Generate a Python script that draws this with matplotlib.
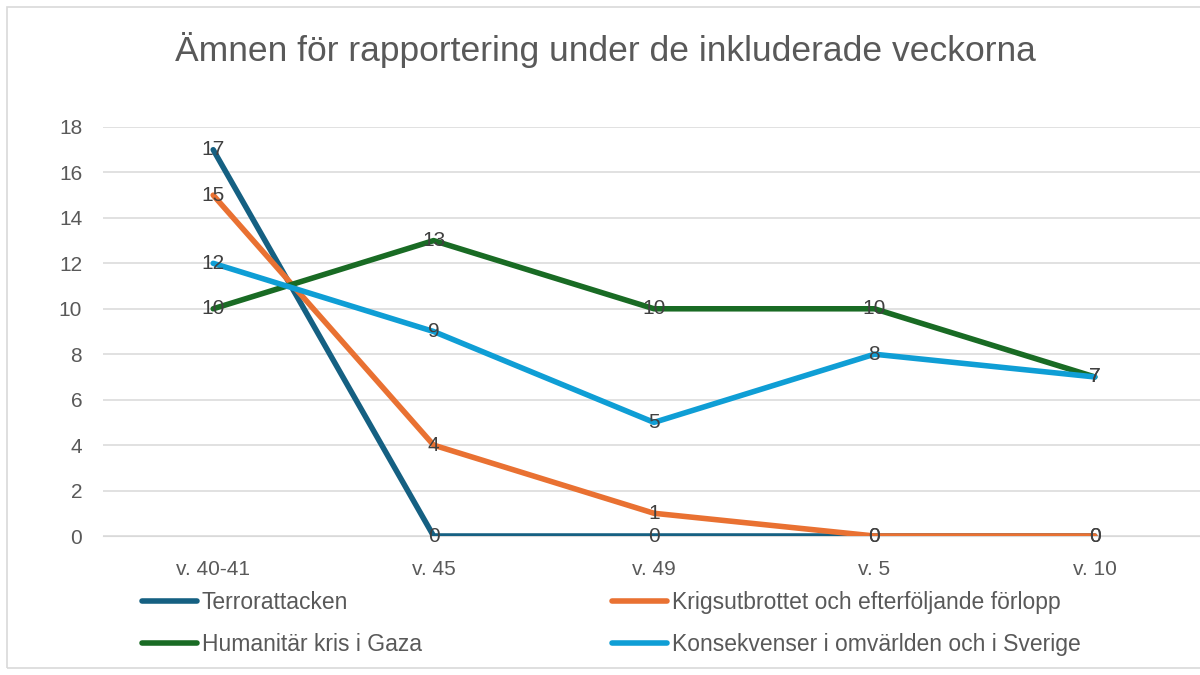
import matplotlib
matplotlib.use("Agg")
import matplotlib.pyplot as plt
from matplotlib.patches import Rectangle

# ── Data ──
weeks = ["v. 40-41", "v. 45", "v. 49", "v. 5", "v. 10"]
series_names = [
    "Terrorattacken",
    "Krigsutbrottet och efterföljande förlopp",
    "Humanitär kris i Gaza",
    "Konsekvenser i omvärlden och i Sverige",
]
terror = [17, 0, 0, 0, 0]
krig = [15, 4, 1, 0, 0]
humanitar = [10, 13, 10, 10, 7]
konsekvenser = [12, 9, 5, 8, 7]
values = [terror, krig, humanitar, konsekvenser]
colors = ["#156082", "#E97132", "#196B24", "#0F9ED5"]

TXT = "#595959"
LBL = "#404040"
GRID = "#D9D9D9"

plt.rcParams["font.family"] = ["Liberation Sans", "DejaVu Sans"]

fig = plt.figure(figsize=(12, 6.75), dpi=100, facecolor="white")
fig.add_artist(Rectangle((7 / 1200, 7 / 675), 1.2, 661 / 675,
                         transform=fig.transFigure, fill=False,
                         edgecolor="#D9D9D9", linewidth=1.2))

ax = fig.add_axes([103 / 1200, 1 - 536 / 675, 1102 / 1200, 409 / 675])
x = list(range(len(weeks)))

handles = []
for vals, name, col in zip(values, series_names, colors):
    h, = ax.plot(x, vals, color=col, linewidth=4.0, label=name,
                 solid_capstyle="round", zorder=3)
    handles.append(h)
    for xi, v in zip(x, vals):
        ax.text(xi, v, str(v), ha="center", va="center", fontsize=15,
                color=LBL, zorder=4)

ax.set_xlim(-0.5, len(weeks) - 0.5)
ax.set_ylim(0, 18)
ax.set_yticks(range(0, 19, 2))
ax.set_xticks(x)
ax.set_xticklabels(weeks)
ax.grid(axis="y", color=GRID, linewidth=1.1, zorder=0)
ax.tick_params(axis="both", length=0, labelsize=15, colors=TXT)
ax.tick_params(axis="y", pad=15)
ax.tick_params(axis="x", pad=17)
for sp in ax.spines.values():
    sp.set_visible(False)
ax.spines["bottom"].set_visible(True)
ax.spines["bottom"].set_color(GRID)

fig.text(605 / 1200, 1 - 50 / 675,
         "Ämnen för rapportering under de inkluderade veckorna",
         ha="center", va="center", fontsize=25.5, color=TXT)

leg_kw = dict(frameon=False, fontsize=16.5, handlelength=2.4, handletextpad=0.2,
              labelspacing=0.85, labelcolor=TXT, borderaxespad=0, borderpad=0)
fig.legend([handles[0], handles[2]], [series_names[0], series_names[2]],
           loc="upper left", bbox_to_anchor=(142 / 1200, 1 - 591 / 675), **leg_kw)
fig.legend([handles[1], handles[3]], [series_names[1], series_names[3]],
           loc="upper left", bbox_to_anchor=(612 / 1200, 1 - 591 / 675), **leg_kw)

fig.savefig("out.png", dpi=100, facecolor="white")
